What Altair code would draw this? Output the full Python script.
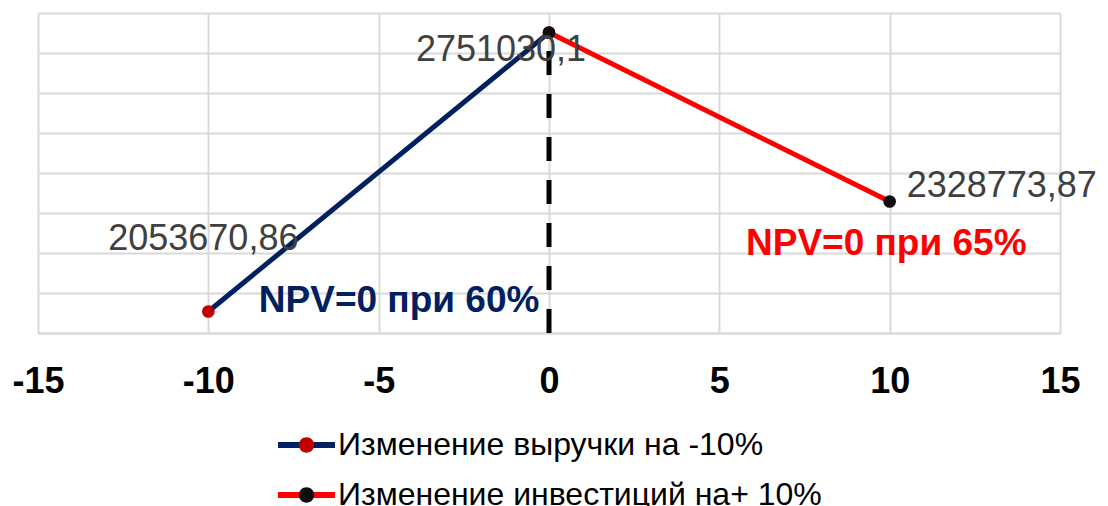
import altair as alt
import pandas as pd

FONT = "Liberation Sans"

series_names = ["Изменение выручки на -10%", "Изменение инвестиций на+ 10%"]
s1_x = [-10, 0]
s1_y = [2053670.86, 2751030.1]
s2_x = [0, 10]
s2_y = [2751030.1, 2328773.87]
line_colors = ["#002060", "#FF0000"]
marker_colors = ["#C00000", "#0D0D0D"]

x_ticks = [-15, -10, -5, 0, 5, 10, 15]
y_grid = [2000000, 2100000, 2200000, 2300000, 2400000, 2500000, 2600000, 2700000, 2800000]

label_x = [-10, 0, 10]
label_y = [2053670.86, 2751030.1, 2328773.87]

npv_text = ["NPV=0 при 60%", "NPV=0 при 65%"]
npv_x = [-4.4, 9.9]
npv_y = [2052500, 2195000]
npv_colors = ["#002060", "#FF0000"]

rule_x = [0]
rule_y = [2000000]
rule_y2 = [2751030.1]

rows = []
for i, (xs, ys) in enumerate([(s1_x, s1_y), (s2_x, s2_y)]):
    for k, (xv, yv) in enumerate(zip(xs, ys)):
        rows.append({"series": series_names[i], "x": xv, "y": yv, "ord": i * 10 + k})
df = pd.DataFrame(rows)

lab_df = pd.DataFrame({
    "x": label_x, "y": label_y,
    "text": [str(v).replace(".", ",") for v in label_y],
    "idx": [0, 1, 2],
})
npv_df = pd.DataFrame({"x": npv_x, "y": npv_y, "text": npv_text, "idx": [0, 1]})
rule_df = pd.DataFrame({"x": rule_x, "y": rule_y, "y2": rule_y2})

x_enc = alt.X(
    "x:Q",
    scale=alt.Scale(domain=[-15, 15], nice=False, zero=False),
    axis=alt.Axis(
        values=x_ticks, tickCount=30, grid=True, gridColor="#d9d9d9", gridWidth=2,
        domainColor="#d9d9d9", domainWidth=2, ticks=False, tickSize=0,
        labelFontSize=36, labelFontWeight="bold", labelFont=FONT,
        labelColor="#000000", labelPadding=31, labelFlush=False,
        labelOverlap=False, labelExpr="toString(datum.value)", title=None,
    ),
)
y_enc = alt.Y(
    "y:Q",
    scale=alt.Scale(domain=[2000000, 2800000], nice=False, zero=False),
    axis=alt.Axis(
        values=y_grid, tickCount=20, grid=True, gridColor="#d9d9d9", gridWidth=2,
        domain=False, ticks=False, labels=False, title=None,
    ),
)

CIRCLE_PATH = "M-0.27,0A0.27,0.27,0,1,0,0.27,0A0.27,0.27,0,1,0,-0.27,0Z"

legend_common = dict(
    orient="none", legendX=237, legendY=407, direction="vertical",
    symbolSize=3249, symbolStrokeWidth=6, labelFontSize=32, labelFont=FONT,
    labelColor="#000000", labelLimit=1000, labelOffset=0, padding=0,
    rowPadding=0, clipHeight=50,
)

grid_layer = alt.Chart(df).mark_point(opacity=0).encode(x=x_enc, y=y_enc)

rule = alt.Chart(rule_df).mark_rule(
    strokeDash=[24, 19], strokeWidth=5, color="#000000"
).encode(x="x:Q", y="y:Q", y2="y2:Q")

lines = alt.Chart(df).mark_line(strokeWidth=5).encode(
    x="x:Q", y="y:Q",
    stroke=alt.Stroke(
        "series:N",
        scale=alt.Scale(domain=series_names, range=line_colors),
        legend=alt.Legend(symbolType="stroke", **legend_common),
        title=None,
    ),
    order="ord:Q",
)

points = alt.Chart(df).mark_circle(size=160, opacity=1).encode(
    x="x:Q", y="y:Q",
    fill=alt.Fill(
        "series:N",
        scale=alt.Scale(domain=series_names, range=marker_colors),
        legend=alt.Legend(symbolType=CIRCLE_PATH, symbolStrokeColor="transparent",
                          symbolOpacity=1, labelExpr="' '", **legend_common),
        title=None,
    ),
    order="ord:Q",
)

label_specs = [
    (0, "center", -5, -62),
    (1, "center", -48, 28),
    (2, "left", 17, -4),
]
label_layers = []
for idx, align, dx, dy in label_specs:
    label_layers.append(
        alt.Chart(lab_df).transform_filter(alt.datum.idx == idx).mark_text(
            align=align, baseline="alphabetic", dx=dx, dy=dy,
            fontSize=36, font=FONT, color="#404040",
        ).encode(x="x:Q", y="y:Q", text="text:N")
    )

npv_layers = []
for idx in range(2):
    npv_layers.append(
        alt.Chart(npv_df).transform_filter(alt.datum.idx == idx).mark_text(
            align="center", baseline="alphabetic", fontSize=37,
            fontWeight="bold", font=FONT, color=npv_colors[idx],
        ).encode(x="x:Q", y="y:Q", text="text:N")
    )

chart = alt.layer(
    grid_layer, rule, lines, points, *label_layers, *npv_layers
).resolve_scale(stroke="independent", fill="independent").properties(
    width=1022, height=320,
    autosize=alt.AutoSizeParams(type="none"),
    padding={"left": 30, "top": 5, "right": 40, "bottom": 173},
).configure_view(stroke=None)

chart.save("out.html", embed_options={"renderer": "svg", "actions": False})
